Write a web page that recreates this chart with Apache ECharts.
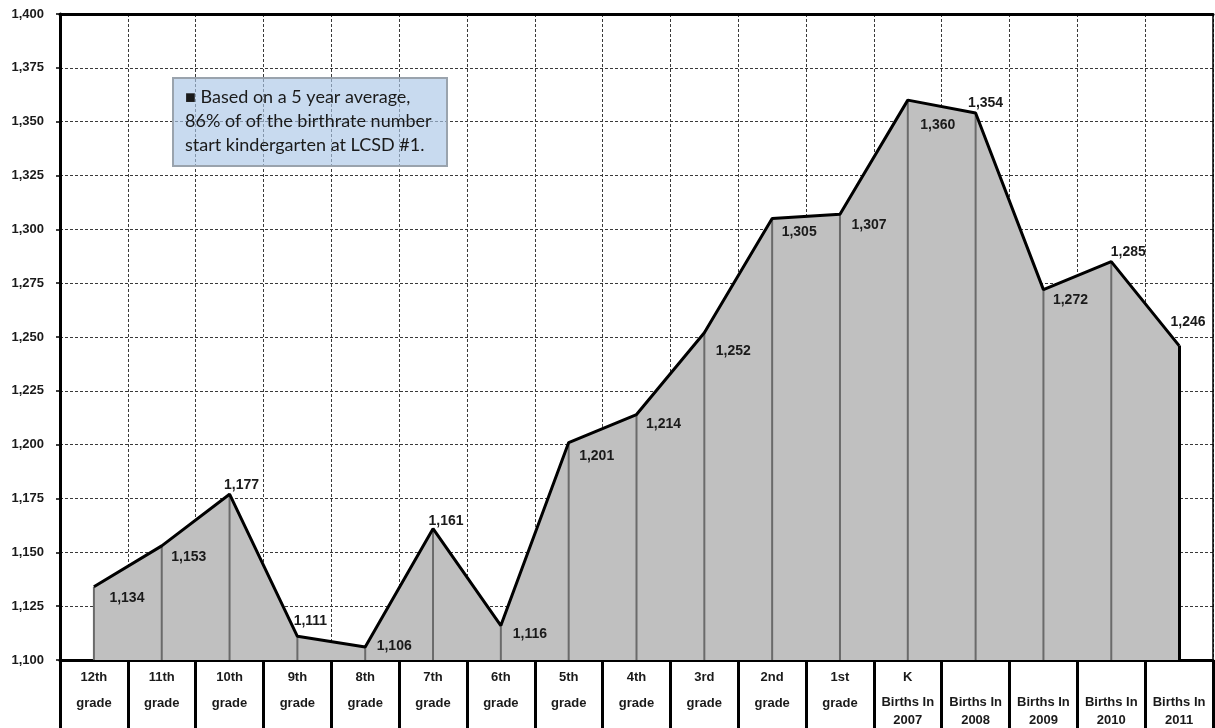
<!DOCTYPE html>
<html>
<head>
<meta charset="utf-8">
<script src="https://cdn.jsdelivr.net/npm/echarts@6/dist/echarts.min.js"></script>
<style>
  html, body { margin: 0; padding: 0; background: #fff; }
  #chart { width: 1215px; height: 728px; }
</style>
</head>
<body>
<div id="chart"></div>
<script>
// ---- data ----
const categories = [
  '12th\ngrade', '11th\ngrade', '10th\ngrade', '9th\ngrade', '8th\ngrade',
  '7th\ngrade', '6th\ngrade', '5th\ngrade', '4th\ngrade', '3rd\ngrade',
  '2nd\ngrade', '1st\ngrade', 'K\nBirths In\n2007', 'Births In\n2008',
  'Births In\n2009', 'Births In\n2010', 'Births In\n2011'
];
const enrollment = [1134, 1153, 1177, 1111, 1106, 1161, 1116, 1201, 1214, 1252, 1305, 1307, 1360, 1354, 1272, 1285, 1246];
const yMin = 1100, yMax = 1400, yStep = 25;
const noteText = '\u25A0 Based on a 5 year average,\n86% of of the birthrate number\nstart kindergarten at LCSD #1.';

// label offsets (style only, px relative to the point)
const labelOffsets = [
  [33, 11], [27, 11], [12, -9], [13, -15], [29, -1], [13, -8], [29, 9],
  [28, 14], [27, 10], [29, 18], [27, 14], [29, 11], [30, 25], [10, -10],
  [27, 11], [17, -9], [9, -23]
];

const fmt = v => Number(v).toLocaleString('en-US');
const lastIdx = enrollment.length - 1;

const chart = echarts.init(document.getElementById('chart'), null, { renderer: 'canvas' });

const dashed = { color: '#3a3a3a', width: 1, type: [3, 2] };
const labelFont = { fontFamily: '"Liberation Sans", Arial, sans-serif', fontWeight: 'bold', color: '#1a1a1a' };

const option = {
  animation: false,
  backgroundColor: '#ffffff',
  grid: { left: 60, right: 2, top: 14, bottom: 68, containLabel: false },
  xAxis: [{
    type: 'category',
    data: categories,
    boundaryGap: true,
    axisLine: { show: true, lineStyle: { color: '#000', width: 3 } },
    axisTick: { show: true, length: 72, lineStyle: { color: '#000', width: 3 } },
    splitLine: { show: true, lineStyle: dashed },
    axisLabel: {
      interval: 0,
      margin: 4,
      verticalAlign: 'top',
      formatter: function (v) {
        const parts = v.split('\n');
        if (parts.length === 2 && parts[1] === 'grade') {
          return '{g|' + parts[0] + '}\n{g|' + parts[1] + '}';
        }
        if (parts.length === 3) {
          return '{g|' + parts[0] + '}\n{m|' + parts[1] + '}\n{b|' + parts[2] + '}';
        }
        return '{g| }\n{m|' + parts[0] + '}\n{b|' + parts[1] + '}';
      },
      rich: {
        g: Object.assign({ fontSize: 13, lineHeight: 26 }, labelFont),
        m: Object.assign({ fontSize: 13, lineHeight: 24 }, labelFont),
        b: Object.assign({ fontSize: 13, lineHeight: 12 }, labelFont)
      }
    }
  }, {
    type: 'category',
    position: 'top',
    data: categories,
    axisLine: { show: true, lineStyle: { color: '#000', width: 3 } },
    axisTick: { show: false },
    axisLabel: { show: false },
    splitLine: { show: false }
  }],
  yAxis: [{
    type: 'value',
    min: yMin,
    max: yMax,
    interval: yStep,
    axisLine: { show: true, lineStyle: { color: '#000', width: 3 } },
    axisTick: { show: true, length: 4, lineStyle: { color: '#000', width: 1.5 } },
    splitLine: { show: true, lineStyle: dashed },
    axisLabel: Object.assign({ fontSize: 13, margin: 16, formatter: fmt }, labelFont)
  }, {
    type: 'value',
    position: 'right',
    min: yMin,
    max: yMax,
    interval: yStep,
    axisLine: { show: true, lineStyle: { color: '#000', width: 1.5 } },
    axisTick: { show: false },
    axisLabel: { show: false },
    splitLine: { show: false }
  }],
  series: [
    {
      name: 'area',
      type: 'line',
      data: enrollment,
      symbol: 'none',
      lineStyle: { width: 0 },
      areaStyle: { color: '#c0c0c0', opacity: 1, origin: 'start' },
      z: 1,
      silent: true
    },
    {
      name: 'drop',
      type: 'bar',
      data: enrollment,
      barWidth: 2,
      itemStyle: { color: '#6a6a6a' },
      z: 2,
      silent: true
    },
    {
      name: 'enrollment',
      type: 'line',
      data: enrollment.map((v, i) => ({
        value: v,
        label: { offset: labelOffsets[i] }
      })),
      symbol: 'circle',
      symbolSize: 1,
      showSymbol: true,
      itemStyle: { color: 'rgba(0,0,0,0)' },
      lineStyle: { color: '#000', width: 3 },
      label: Object.assign({
        show: true,
        position: 'inside',
        align: 'center',
        verticalAlign: 'middle',
        fontSize: 14,
        formatter: p => fmt(p.value)
      }, labelFont),
      markLine: {
        silent: true,
        symbol: 'none',
        label: { show: false },
        lineStyle: { color: '#000', width: 3, type: 'solid' },
        data: [[
          { coord: [categories[lastIdx], enrollment[lastIdx]] },
          { coord: [categories[lastIdx], yMin] }
        ]]
      },
      z: 3
    }
  ],
  graphic: [
    {
      type: 'rect',
      left: 172, top: 77,
      shape: { width: 274, height: 88 },
      style: { fill: 'rgba(170,198,230,0.65)', stroke: '#9aa3ad', lineWidth: 2 },
      z: 100
    },
    {
      type: 'text',
      left: 185, top: 85,
      style: {
        text: noteText,
        font: '18px Lato, "Open Sans", sans-serif',
        lineHeight: 24,
        fill: '#1a1a1a'
      },
      z: 101
    }
  ]
};

chart.setOption(option);
</script>
</body>
</html>
